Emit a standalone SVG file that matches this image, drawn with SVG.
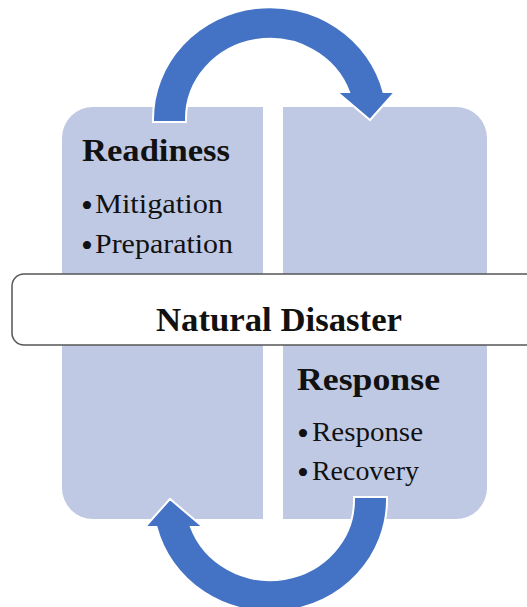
<svg xmlns="http://www.w3.org/2000/svg" width="527" height="607" viewBox="0 0 527 607">
<defs>
<style>
.panel{fill:#BFC9E3;}
.arrow{fill:#4472C4;stroke:#FFFFFF;stroke-width:2;stroke-linejoin:miter;}
.head{font-family:"Liberation Serif","Times New Roman",serif;font-weight:bold;font-size:32px;fill:#111;}
.item{font-family:"Liberation Serif","Times New Roman",serif;font-size:28px;fill:#111;}
.bul{font-size:34px;}
.title{font-family:"Liberation Serif","Times New Roman",serif;font-weight:bold;font-size:34px;fill:#111;}
</style>
<path id="arc" d="M153,122 V119 A117,112 0 0 1 383.5,92 H395 L370,120 L337,92 H349.1 A84,80 0 0 0 186,119 V122 Z"/>
</defs>
<rect width="527" height="607" fill="#FFFFFF"/>
<g id="readiness">
<path class="panel" d="M263,107 H93 A31,31 0 0 0 62,138 V488 A31,31 0 0 0 93,519 H263 Z"/>
<text class="head" x="82" y="161" textLength="148" lengthAdjust="spacingAndGlyphs">Readiness</text>
<text class="item" x="81" y="213"><tspan class="bul" y="217">•</tspan><tspan x="95" y="213" textLength="128" lengthAdjust="spacingAndGlyphs">Mitigation</tspan></text>
<text class="item" x="81" y="253"><tspan class="bul" y="257">•</tspan><tspan x="95" y="253" textLength="138" lengthAdjust="spacingAndGlyphs">Preparation</tspan></text>
</g>
<g id="response">
<path class="panel" d="M283,107 H456 A31,31 0 0 1 487,138 V488 A31,31 0 0 1 456,519 H283 Z"/>
<text class="head" x="297" y="390" textLength="143" lengthAdjust="spacingAndGlyphs">Response</text>
<text class="item" x="297" y="441"><tspan class="bul" y="445">•</tspan><tspan x="312" y="441" textLength="111" lengthAdjust="spacingAndGlyphs">Response</tspan></text>
<text class="item" x="297" y="480"><tspan class="bul" y="484">•</tspan><tspan x="312" y="480" textLength="107" lengthAdjust="spacingAndGlyphs">Recovery</tspan></text>
</g>
<g id="connectors">
<use href="#arc" class="arrow"/>
<use href="#arc" class="arrow" transform="rotate(180 270 309.5)"/>
</g>
<g id="natural-disaster">
<rect x="12" y="274" width="530" height="71" rx="12" ry="12" fill="#FFFFFF" stroke="#555555" stroke-width="1.5"/>
<text class="title" x="156" y="331" textLength="246" lengthAdjust="spacingAndGlyphs">Natural Disaster</text>
</g>
</svg>
